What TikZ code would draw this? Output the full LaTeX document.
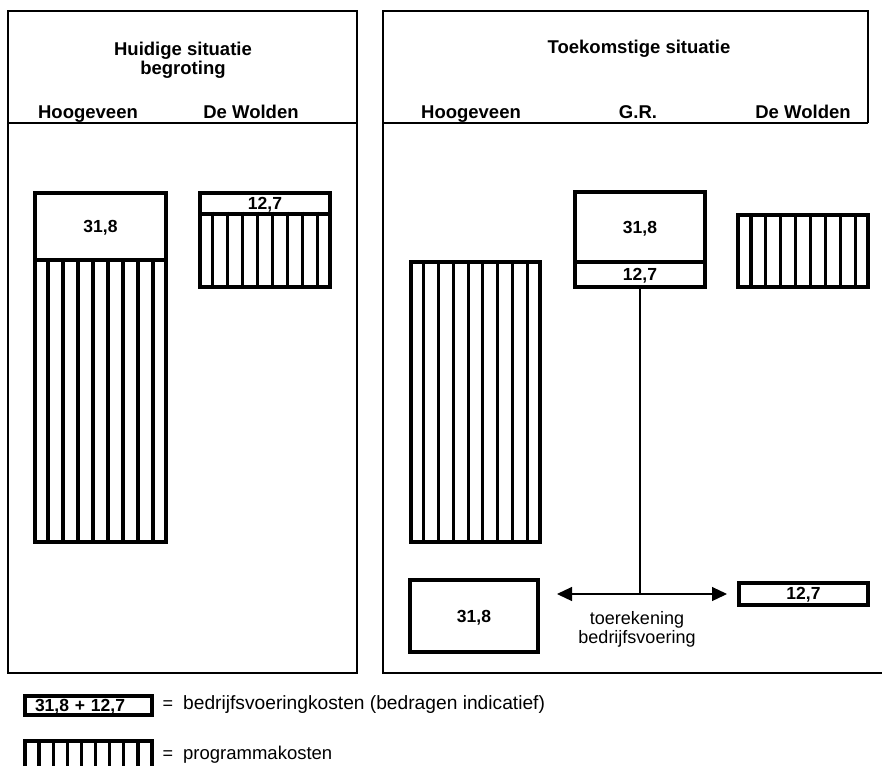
\documentclass[tikz,border=0pt]{standalone}
\usepackage{fontspec}
\setmainfont{Liberation Sans}
\usetikzlibrary{arrows.meta,calc}
\newcommand\bigf{\fontsize{18}{19}\selectfont}
\newcommand\hdrf{\fontsize{18.5}{19}\selectfont}
\newcommand\boxf{\fontsize{17.5}{19}\selectfont}
\newcommand\mystripes[1]{\foreach \k in {1,...,8}{\draw[stripeline] ($(#1.north west)!\k/9!(#1.north east)$) -- ($(#1.south west)!\k/9!(#1.south east)$);}}
\begin{document}
\begin{tikzpicture}[x=1pt,y=-1pt,
  panel/.style={line width=2.5pt},
  box/.style={draw, line width=4pt, inner sep=0pt, text depth=0pt, font=\boxf\bfseries},
  stripeline/.style={line width=3.2pt},
  hdr/.style={font=\hdrf\bfseries, anchor=base},
  lbl/.style={font=\bigf, anchor=base},
  conn/.style={line width=1.2pt},
  arr/.style={line width=1.2pt, -{Triangle[length=15pt,width=14pt]}}]
\useasboundingbox (0,0) rectangle (882,766);
% panels
\draw[panel] (8,11) rectangle (357,673);
\draw[panel] (8,123) -- (357,123);
\draw[panel] (882,673) -- (383,673) -- (383,11) -- (868,11) -- (868,123);
\draw[panel] (383,123) -- (868,123);
% headers
\node[font=\hdrf\bfseries, align=center] (t1) at (183,60) {Huidige situatie\\begroting};
\node[hdr] (lhh) at (88,118) {Hoogeveen};
\node[hdr] (lhw) at (251,118) {De Wolden};
\node[hdr] (rt) at (639,53) {Toekomstige situatie};
\node[hdr] (rhh) at (471,118) {Hoogeveen};
\node[hdr] (rhg) at (638,118) {G.R.};
\node[hdr] (rhw) at (803,118) {De Wolden};
% left panel bars
\node[box, minimum width=131pt, minimum height=67pt] (lh1) at (100.5,226.5) {31,8};
\node[box, minimum width=131pt, minimum height=282pt] (lh2) at (100.5,401) {};
\mystripes{lh2}
\node[box, minimum width=130pt, minimum height=21pt] (lw1) at (265,203) {12,7};
\node[box, minimum width=130pt, minimum height=73pt] (lw2) at (265,250) {};
\mystripes{lw2}
% right panel bars
\node[box, minimum width=130pt, minimum height=70pt] (g1) at (640,227) {31,8};
\node[box, minimum width=130pt, minimum height=25pt] (g2) at (640,274.5) {12,7};
\node[box, minimum width=130pt, minimum height=72pt] (rw) at (803,251) {};
\mystripes{rw}
\node[box, minimum width=129pt, minimum height=280pt] (rh) at (475.5,402) {};
\mystripes{rh}
\node[box, minimum width=128pt, minimum height=72pt] (bh) at (474,616) {31,8};
\node[box, minimum width=129pt, minimum height=22pt] (bw) at (803.5,593.5) {12,7};
% allocation connector
\coordinate (j) at (640,594);
\coordinate (al) at (557,594);
\coordinate (ar) at (727,594);
\draw[conn] (g2.south) -- (j);
\draw[arr] (j) -- (al);
\draw[arr] (j) -- (ar);
\node[font=\bigf, align=center] (cap) at (637,629) {toerekening\\bedrijfsvoering};
% legend
\node[box, minimum width=127pt, minimum height=19pt, text width=107pt, align=left] (lb) at (88.5,705) {31,8 + 12,7};
\node[lbl] (eq1) at (168,709) {=};
\node[lbl, anchor=base west, inner sep=0pt, font=\fontsize{19.2}{20}\selectfont] (d1) at (183,709) {bedrijfsvoeringkosten (bedragen indicatief)};
\node[minimum width=127pt, minimum height=24.5pt, inner sep=0pt] (lg) at (88.5,753.75) {};
\draw[line width=4pt] (lg.south west) -- (lg.north west) -- (lg.north east) -- (lg.south east);
\mystripes{lg}
\node[lbl] (eq2) at (168,759) {=};
\node[lbl, anchor=base west, inner sep=0pt, font=\fontsize{18.5}{20}\selectfont] (d2) at (183,759) {programmakosten};
\end{tikzpicture}
\end{document}
